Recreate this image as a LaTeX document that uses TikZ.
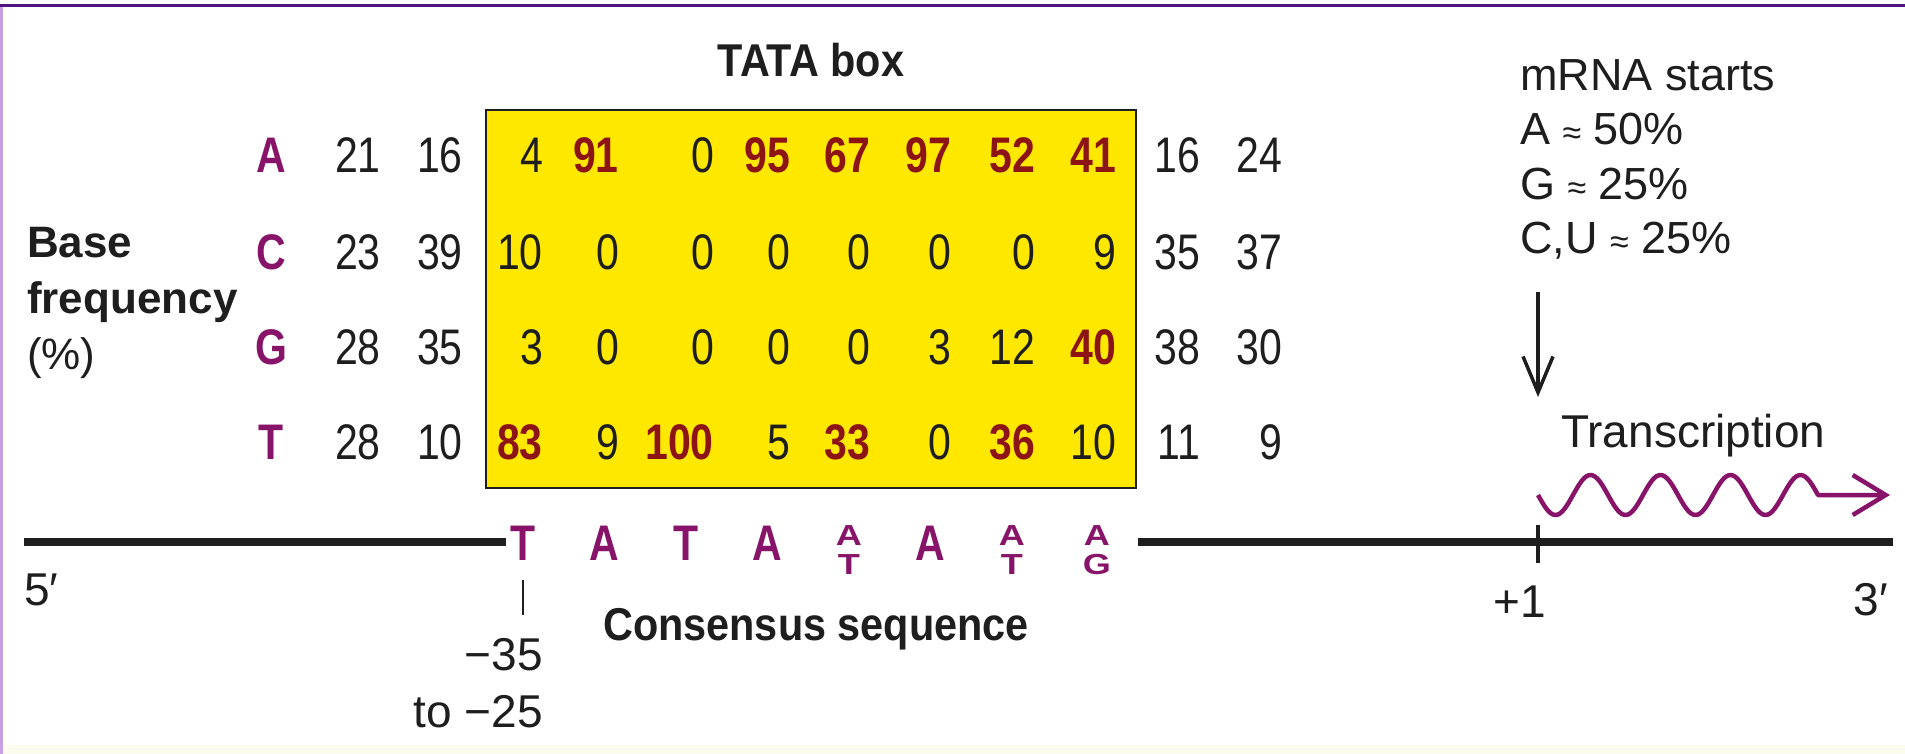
\documentclass[tikz,border=0pt]{standalone}
\usepackage{fontspec}
\usepackage{graphicx}
\setmainfont{Liberation Sans}
\newfontfamily\condfont[FakeStretch=0.82]{Liberation Sans}
\newfontfamily\headfont[FakeStretch=0.9]{Liberation Sans}
\usetikzlibrary{arrows.meta}
\definecolor{basecol}{RGB}{135,20,105}
\definecolor{hired}{RGB}{140,20,20}
\definecolor{txt}{RGB}{30,30,30}
\definecolor{boxyellow}{RGB}{255,232,0}
\definecolor{frametop}{RGB}{80,20,130}
\definecolor{frameside}{RGB}{200,160,230}
\definecolor{cream}{RGB}{252,252,238}
\newcommand\hinum[1]{\textcolor{hired}{\bfseries #1}}
\newcommand\stk[1]{\scalebox{0.88}[0.58]{#1}}
\def\colx{{381,463,543,619,714,790,870,951,1035,1116,1200,1282}}
\begin{document}
\begin{tikzpicture}[x=1pt,y=-1pt,
  num/.style={anchor=base east, inner sep=0pt, text=txt, font=\condfont\fontsize{50}{50}\selectfont},
  baseletter/.style={anchor=base, inner sep=0pt, text=basecol, font=\condfont\bfseries\fontsize{50}{50}\selectfont},
  head/.style={inner sep=0pt, text=txt, font=\headfont\bfseries\fontsize{46}{46}\selectfont},
  lab/.style={inner sep=0pt, text=txt, font=\fontsize{46}{46}\selectfont},
  tatabox/.style={draw=txt, line width=2.5pt, fill=boxyellow, inner sep=0pt},
  dna/.style={draw=txt, line width=8pt},
  tick/.style={draw=txt, line width=4pt},
  smalltick/.style={draw=txt, line width=2.5pt},
  downarrow/.style={draw=txt, line width=3.5pt, -{Straight Barb[length=36pt,width=30pt]}},
  wavy/.style={draw=basecol, line width=4.5pt, line join=round, -{Straight Barb[length=33pt,width=40pt]}}
]
\useasboundingbox (0,0) rectangle (1905,754);
\fill[white] (0,0) rectangle (1905,754);
\fill[cream] (0,745) rectangle (1905,754);
\draw[frametop, line width=3.5pt] (0,5.5) -- (1905,5.5);
\draw[frameside, line width=3pt] (1.5,7) -- (1.5,754);

% TATA box
\node[tatabox, minimum width=650pt, minimum height=378pt] (box) at (811,299) {};
\node[head, anchor=base] (title) at (811,77) {TATA box};

% left label
\node[inner sep=0pt, text=txt, anchor=north west, align=left,
      font=\fontsize{44}{56}\selectfont] (bf) at (27,227) {\textbf{Base}\\\textbf{frequency}\\(\%)};

% row letters
\foreach \L/\yy in {A/172.5, C/269.5, G/364.5, T/459.5}
  \node[baseletter] (row\L) at (271,\yy) {\L};

% numbers
\foreach \v [count=\i] in {21,16,4,\hinum{91},0,\hinum{95},\hinum{67},\hinum{97},\hinum{52},\hinum{41},16,24}{
  \pgfmathsetmacro\xx{\colx[\i-1]}
  \node[num] (A-\i) at (\xx,172.5) {\v};}
\foreach \v [count=\i] in {23,39,10,0,0,0,0,0,0,9,35,37}{
  \pgfmathsetmacro\xx{\colx[\i-1]}
  \node[num] (C-\i) at (\xx,269.5) {\v};}
\foreach \v [count=\i] in {28,35,3,0,0,0,0,3,12,\hinum{40},38,30}{
  \pgfmathsetmacro\xx{\colx[\i-1]}
  \node[num] (G-\i) at (\xx,364.5) {\v};}
\foreach \v [count=\i] in {28,10,\hinum{83},9,\hinum{100},5,\hinum{33},0,\hinum{36},10,11,9}{
  \pgfmathsetmacro\xx{\colx[\i-1]}
  \node[num] (T-\i) at (\xx,459.5) {\v};}

% DNA line
\coordinate (dnaL) at (24,542);
\coordinate (dnaLe) at (506,542);
\coordinate (dnaRs) at (1138,542);
\coordinate (dnaR) at (1893,542);
\draw[dna] (dnaL) -- (dnaLe);
\draw[dna] (dnaRs) -- (dnaR);

% consensus letters
\node[baseletter] (c1) at (523,560) {T};
\node[baseletter] (c2) at (604,560) {A};
\node[baseletter] (c3) at (686,560) {T};
\node[baseletter] (c4) at (767,560) {A};
\node[baseletter] (c5a) at (849,545) {\stk{A}};
\node[baseletter] (c5b) at (849,574) {\stk{T}};
\node[baseletter] (c6) at (930,560) {A};
\node[baseletter] (c7a) at (1012,545) {\stk{A}};
\node[baseletter] (c7b) at (1012,574) {\stk{T}};
\node[baseletter] (c8a) at (1097,545) {\stk{A}};
\node[baseletter] (c8b) at (1097,574) {\stk{G}};

\coordinate (tkA) at (523,580);
\coordinate (tkB) at (523,615);
\draw[smalltick] (tkA) -- (tkB);

\node[head, anchor=base] (cons) at (816,640) {Consensus sequence};
\node[lab, anchor=base east] (m35) at (543,670) {−35};
\node[lab, anchor=base east] (m25) at (543,727) {to −25};

\node[lab, anchor=base west] (five) at (24,605) {5′};
\node[lab, anchor=base east] (three) at (1888,615) {3′};

% +1 tick
\coordinate (p1a) at (1538,525);
\coordinate (p1b) at (1538,563);
\draw[tick] (p1a) -- (p1b);
\node[lab, anchor=base east] (plus1) at (1546,617) {+1};

% mRNA starts
\node[inner sep=0pt, text=txt, anchor=north west, align=left,
      font=\fontsize{45}{54.5}\selectfont] (mrna) at (1520,59)
  {mRNA starts\\A {\fontsize{34}{34}\selectfont ≈} 50\%\\G {\fontsize{34}{34}\selectfont ≈} 25\%\\C,U {\fontsize{34}{34}\selectfont ≈} 25\%};

\coordinate (arrA) at (1538,292);
\coordinate (arrB) at (1538,397);
\draw[downarrow] (arrA) -- (arrB);

\node[lab, anchor=base west] (transc) at (1561,447) {Transcription};

\coordinate (wvS) at (1538,495);
\coordinate (wvE) at (1890,495);
\draw[wavy] (wvS) plot[domain=0:280, samples=141, smooth] ({1538+\x},{495+20*sin(\x/70*360)}) -- (wvE);
\end{tikzpicture}
\end{document}
